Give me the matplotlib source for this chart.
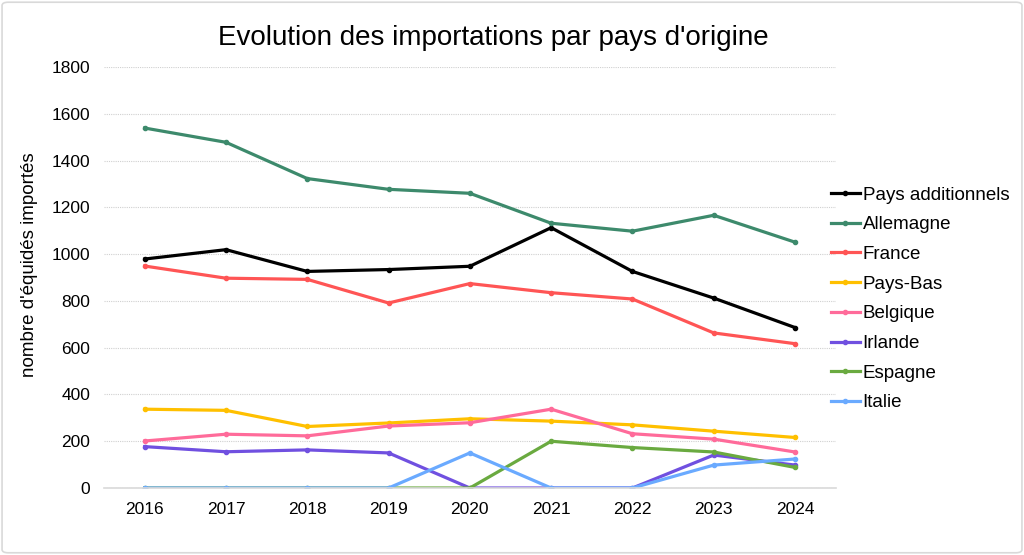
import matplotlib
matplotlib.use("Agg")
import matplotlib.pyplot as plt
from matplotlib.patches import FancyBboxPatch

plt.rcParams['font.family'] = ['Liberation Sans', 'DejaVu Sans']

years = ["2016", "2017", "2018", "2019", "2020", "2021", "2022", "2023", "2024"]
pays_additionnels = [979, 1019, 926, 934, 948, 1113, 926, 812, 686]
allemagne = [1539, 1478, 1323, 1277, 1260, 1132, 1098, 1166, 1051]
france = [949, 897, 892, 791, 874, 835, 808, 663, 617]
pays_bas = [337, 332, 263, 278, 296, 286, 270, 243, 216]
belgique = [201, 230, 223, 265, 279, 337, 232, 209, 154]
irlande = [177, 155, 163, 150, 0, 0, 0, 141, 98]
espagne = [0, 0, 0, 0, 0, 200, 173, 154, 88]
italie = [0, 0, 0, 0, 150, 0, 0, 98, 124]

series = [
    ("Pays additionnels", pays_additionnels, "#000000"),
    ("Allemagne", allemagne, "#3d8a6c"),
    ("France", france, "#ff5555"),
    ("Pays-Bas", pays_bas, "#ffc000"),
    ("Belgique", belgique, "#ff6b9a"),
    ("Irlande", irlande, "#7050e0"),
    ("Espagne", espagne, "#6aaa40"),
    ("Italie", italie, "#6aaaff"),
]

fig = plt.figure(figsize=(10.24, 5.55), dpi=100)
border = FancyBboxPatch((0.002, 0.004), 0.996, 0.992, boxstyle="round,pad=0,rounding_size=0.006",
                        transform=fig.transFigure, facecolor="none", edgecolor="#d9d9d9",
                        linewidth=1.2, zorder=-10)
fig.patches.append(border)

ax = fig.add_axes([0.1016, 0.1207, 0.7145, 0.7586])
ax.set_facecolor("none")
x = list(range(len(years)))
for name, vals, col in series:
    ax.plot(x, vals, color=col, linewidth=2.3, marker='o', markersize=3, label=name)

ax.set_xlim(-0.5, len(years) - 0.5)
ax.set_ylim(0, 1800)
ax.set_yticks(range(0, 1801, 200))
ax.set_xticks(x)
ax.set_xticklabels(years)
ax.tick_params(axis='both', length=0, labelsize=12.5, colors="#000000")
ax.tick_params(axis='x', pad=10)
ax.tick_params(axis='y', pad=10)
ax.yaxis.grid(True, color="#d0d0d0", linestyle=(0, (1, 1)), linewidth=0.8)
ax.set_axisbelow(True)
for s in ["top", "right", "left"]:
    ax.spines[s].set_visible(False)
ax.spines["bottom"].set_color("#d9d9d9")
ax.spines["bottom"].set_linewidth(1.2)

fig.text(30 / 1024, 1 - 265 / 555, "nombre d'équidés importés", fontsize=13.5,
         rotation=90, ha='center', va='center')
fig.text(0.482, 0.931, "Evolution des importations par pays d'origine", fontsize=20,
         ha='center', va='center')

leg = ax.legend(loc='center left', bbox_to_anchor=(0.983, 0.449), frameon=False, fontsize=13.5,
                handlelength=1.55, handletextpad=0.15, labelspacing=0.67, borderaxespad=0)

fig.savefig("out.png", dpi=100)
